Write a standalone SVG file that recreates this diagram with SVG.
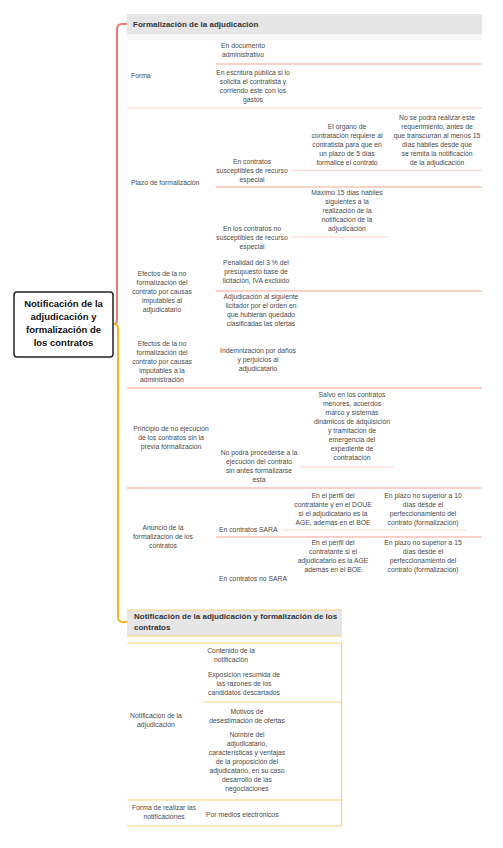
<svg xmlns="http://www.w3.org/2000/svg" width="503" height="848" viewBox="0 0 503 848">
<style>
.t{font-family:"Liberation Sans",Arial,sans-serif;font-size:6.8px;fill:#4a4a4a;text-anchor:middle}
.s{text-anchor:start}
.h{font-family:"Liberation Sans",Arial,sans-serif;font-size:8px;font-weight:bold;fill:#333}
.c{font-family:"Liberation Sans",Arial,sans-serif;font-size:9.5px;font-weight:bold;fill:#111;text-anchor:middle}
.lr{stroke:#fbd3cb;stroke-width:1.2;fill:none}
.sr{stroke:#f8a293;stroke-width:1.2;fill:none}
.ly{stroke:#f9cf72;stroke-width:1.2;fill:none}
</style>
<rect width="503" height="848" fill="#fff"/>

<g id="connectors">
<path d="M113,324 H114 Q117,324 117,319 V29 Q117,24 122,24 H127" stroke="#f47b6b" stroke-width="2" fill="none"/>
<path d="M113,324 H114 Q118,324 118,329 V617 Q118,622 123,622 H127" stroke="#f5b522" stroke-width="2" fill="none"/>
<line class="lr" x1="291" y1="170.5" x2="482" y2="170.5"/>
<line class="lr" x1="291" y1="237" x2="388" y2="237"/>
<line class="lr" x1="300" y1="467" x2="394" y2="467"/>
<line class="lr" x1="282" y1="530" x2="466" y2="530"/>
</g>

<g id="central">
<rect x="14" y="292" width="99" height="65" rx="3" fill="#fff" stroke="#222" stroke-width="1.5"/>
<text class="c" x="63.5" y="306.5">Notificación de la</text>
<text class="c" x="63.5" y="319.5">adjudicación y</text>
<text class="c" x="63.5" y="332.5">formalización de</text>
<text class="c" x="63.5" y="345.5">los contratos</text>
</g>

<g id="panel1-lines">
<rect x="127" y="14" width="355" height="20" fill="#e6e6e6"/>
<rect x="127" y="34" width="355" height="6" fill="#f6f6f6"/>
<line class="sr" x1="216" y1="64" x2="482" y2="64"/>
<line class="lr" x1="127" y1="108" x2="482" y2="108"/>
<line class="sr" x1="216" y1="187" x2="482" y2="187"/>
<line class="sr" x1="216" y1="291" x2="482" y2="291"/>
<line class="sr" x1="127" y1="388" x2="482" y2="388"/>
<line class="sr" x1="127" y1="488" x2="482" y2="488"/>
<line class="sr" x1="216" y1="537" x2="482" y2="537"/>
</g>

<g id="header1"><text class="h" x="133" y="27">Formalización de la adjudicación</text></g>

<g id="forma">
<text class="t s" x="131" y="78">Forma</text>
</g>
<g id="forma-doc">
<text class="t" x="243"><tspan x="243" y="48.4">En documento</tspan><tspan x="243" y="57.4">administrativo</tspan></text>
</g>
<g id="forma-escritura">
<text class="t" x="253"><tspan x="253" y="75.4">En escritura pública si lo</tspan><tspan x="253" y="84.4">solicita el contratista y</tspan><tspan x="253" y="93.4">corriendo éste con los</tspan><tspan x="253" y="102.4">gastos</tspan></text>
</g>

<g id="plazo">
<text class="t s" x="131" y="184.5">Plazo de formalización</text>
</g>
<g id="plazo-recurso">
<text class="t"><tspan x="252" y="163.5">En contratos</tspan><tspan x="252" y="172.5">susceptibles de recurso</tspan><tspan x="252" y="181.5">especial</tspan></text>
</g>
<g id="plazo-organo">
<text class="t"><tspan x="347" y="129.4">El órgano de</tspan><tspan x="347" y="138.4">contratación requiere al</tspan><tspan x="347" y="147.4">contratista para que en</tspan><tspan x="347" y="156.4">un plazo de 5 días</tspan><tspan x="347" y="165.4">formalice el contrato</tspan></text>
</g>
<g id="plazo-no-podra">
<text class="t"><tspan x="437" y="120.4">No se podrá realizar este</tspan><tspan x="437" y="129.4">requerimiento, antes de</tspan><tspan x="437" y="138.4">que transcurran al menos 15</tspan><tspan x="437" y="147.4">días hábiles desde que</tspan><tspan x="437" y="156.4">se remita la notificación</tspan><tspan x="437" y="165.4">de la adjudicación</tspan></text>
</g>
<g id="plazo-no-recurso">
<text class="t"><tspan x="252" y="231.4">En los contratos no</tspan><tspan x="252" y="240.4">susceptibles de recurso</tspan><tspan x="252" y="249.4">especial</tspan></text>
</g>
<g id="plazo-maximo">
<text class="t"><tspan x="347" y="195.4">Máximo 15 días hábiles</tspan><tspan x="347" y="204.4">siguientes a la</tspan><tspan x="347" y="213.4">realización de la</tspan><tspan x="347" y="222.4">notificación de la</tspan><tspan x="347" y="231.4">adjudicación</tspan></text>
</g>

<g id="efectos-adjudicatario">
<text class="t"><tspan x="162" y="276.4">Efectos de la no</tspan><tspan x="162" y="285.4">formalización del</tspan><tspan x="162" y="294.4">contrato por causas</tspan><tspan x="162" y="303.4">imputables al</tspan><tspan x="162" y="312.4">adjudicatario</tspan></text>
</g>
<g id="penalidad">
<text class="t"><tspan x="256" y="265.4">Penalidad del 3 % del</tspan><tspan x="256" y="274.4">presupuesto base de</tspan><tspan x="256" y="283.4">licitación, IVA excluido</tspan></text>
</g>
<g id="adjudicacion-siguiente">
<text class="t"><tspan x="261" y="299.4">Adjudicación al siguiente</tspan><tspan x="261" y="308.4">licitador por el orden en</tspan><tspan x="261" y="317.4">que hubieran quedado</tspan><tspan x="261" y="326.4">clasificadas las ofertas</tspan></text>
</g>

<g id="efectos-administracion">
<text class="t"><tspan x="162" y="346.4">Efectos de la no</tspan><tspan x="162" y="355.4">formalización del</tspan><tspan x="162" y="364.4">contrato por causas</tspan><tspan x="162" y="373.4">imputables a la</tspan><tspan x="162" y="382.4">administración</tspan></text>
</g>
<g id="indemnizacion">
<text class="t"><tspan x="258" y="353.4">Indemnización por daños</tspan><tspan x="258" y="362.4">y perjuicios al</tspan><tspan x="258" y="371.4">adjudicatario</tspan></text>
</g>

<g id="principio">
<text class="t"><tspan x="171" y="431.4">Principio de no ejecución</tspan><tspan x="171" y="440.4">de los contratos sin la</tspan><tspan x="171" y="449.4">previa formalización</tspan></text>
</g>
<g id="no-podra">
<text class="t"><tspan x="259" y="455.4">No podrá procederse a la</tspan><tspan x="259" y="464.4">ejecución del contrato</tspan><tspan x="259" y="473.4">sin antes formalizarse</tspan><tspan x="259" y="482.4">esta</tspan></text>
</g>
<g id="salvo">
<text class="t"><tspan x="352" y="397.4">Salvo en los contratos</tspan><tspan x="352" y="406.4">menores, acuerdos</tspan><tspan x="352" y="415.4">marco y sistemas</tspan><tspan x="352" y="424.4">dinámicos de adquisición</tspan><tspan x="352" y="433.4">y tramitación de</tspan><tspan x="352" y="442.4">emergencia del</tspan><tspan x="352" y="451.4">expediente de</tspan><tspan x="352" y="460.4">contratación</tspan></text>
</g>

<g id="anuncio">
<text class="t"><tspan x="163" y="530.4">Anuncio de la</tspan><tspan x="163" y="539.4">formalización de los</tspan><tspan x="163" y="548.4">contratos</tspan></text>
</g>
<g id="sara">
<text class="t s" x="219" y="532.4">En contratos SARA</text>
</g>
<g id="sara-perfil">
<text class="t"><tspan x="333" y="498.4">En el perfil del</tspan><tspan x="333" y="507.4">contratante y en el DOUE</tspan><tspan x="333" y="516.4">si el adjudicatario es la</tspan><tspan x="333" y="525.4">AGE, además en el BOE</tspan></text>
</g>
<g id="sara-plazo">
<text class="t"><tspan x="423" y="498.4">En plazo no superior a 10</tspan><tspan x="423" y="507.4">días desde el</tspan><tspan x="423" y="516.4">perfeccionamiento del</tspan><tspan x="423" y="525.4">contrato (formalización)</tspan></text>
</g>
<g id="no-sara">
<text class="t s" x="219" y="581.4">En contratos no SARA</text>
</g>
<g id="no-sara-perfil">
<text class="t"><tspan x="333" y="545.4">En el perfil del</tspan><tspan x="333" y="554.4">contratante si el</tspan><tspan x="333" y="563.4">adjudicatario es la AGE</tspan><tspan x="333" y="572.4">además en el BOE</tspan></text>
</g>
<g id="no-sara-plazo">
<text class="t"><tspan x="423" y="545.4">En plazo no superior a 15</tspan><tspan x="423" y="554.4">días desde el</tspan><tspan x="423" y="563.4">perfeccionamiento del</tspan><tspan x="423" y="572.4">contrato (formalización)</tspan></text>
</g>

<g id="panel2-lines">
<rect x="127" y="610" width="215" height="26" fill="#e6e6e6"/>
<line class="ly" x1="127" y1="610" x2="342" y2="610"/>
<line class="ly" x1="127" y1="636" x2="342" y2="636"/>
<line class="ly" x1="127" y1="643" x2="342" y2="643"/>
<line class="ly" x1="341.5" y1="643" x2="341.5" y2="826"/>
<line class="ly" x1="203" y1="702" x2="341.5" y2="702"/>
<line class="ly" x1="127" y1="800" x2="341.5" y2="800"/>
<line class="ly" x1="127" y1="826" x2="341.5" y2="826"/>
</g>

<g id="header2"><text class="h"><tspan x="134" y="619">Notificación de la adjudicación y formalización de los</tspan><tspan x="134" y="630">contratos</tspan></text></g>

<g id="notificacion">
<text class="t"><tspan x="156" y="718.4">Notificación de la</tspan><tspan x="156" y="727.4">adjudicación</tspan></text>
</g>
<g id="contenido">
<text class="t"><tspan x="231" y="653.4">Contenido de la</tspan><tspan x="231" y="662.4">notificación</tspan></text>
</g>
<g id="exposicion">
<text class="t"><tspan x="244" y="677.4">Exposición resumida de</tspan><tspan x="244" y="686.4">las razones de los</tspan><tspan x="244" y="695.4">candidatos descartados</tspan></text>
</g>
<g id="motivos">
<text class="t"><tspan x="247" y="714.4">Motivos de</tspan><tspan x="247" y="723.4">desestimación de ofertas</tspan></text>
</g>
<g id="nombre">
<text class="t"><tspan x="247" y="737.4">Nombre del</tspan><tspan x="247" y="746.4">adjudicatario,</tspan><tspan x="247" y="755.4">características y ventajas</tspan><tspan x="247" y="764.4">de la proposición del</tspan><tspan x="247" y="773.4">adjudicatario, en su caso</tspan><tspan x="247" y="782.4">desarrollo de las</tspan><tspan x="247" y="791.4">negociaciones</tspan></text>
</g>
<g id="forma-notif">
<text class="t"><tspan x="164" y="810.4">Forma de realizar las</tspan><tspan x="164" y="819.4">notificaciones</tspan></text>
</g>
<g id="medios">
<text class="t s" x="206" y="817.4">Por medios electrónicos</text>
</g>
</svg>
